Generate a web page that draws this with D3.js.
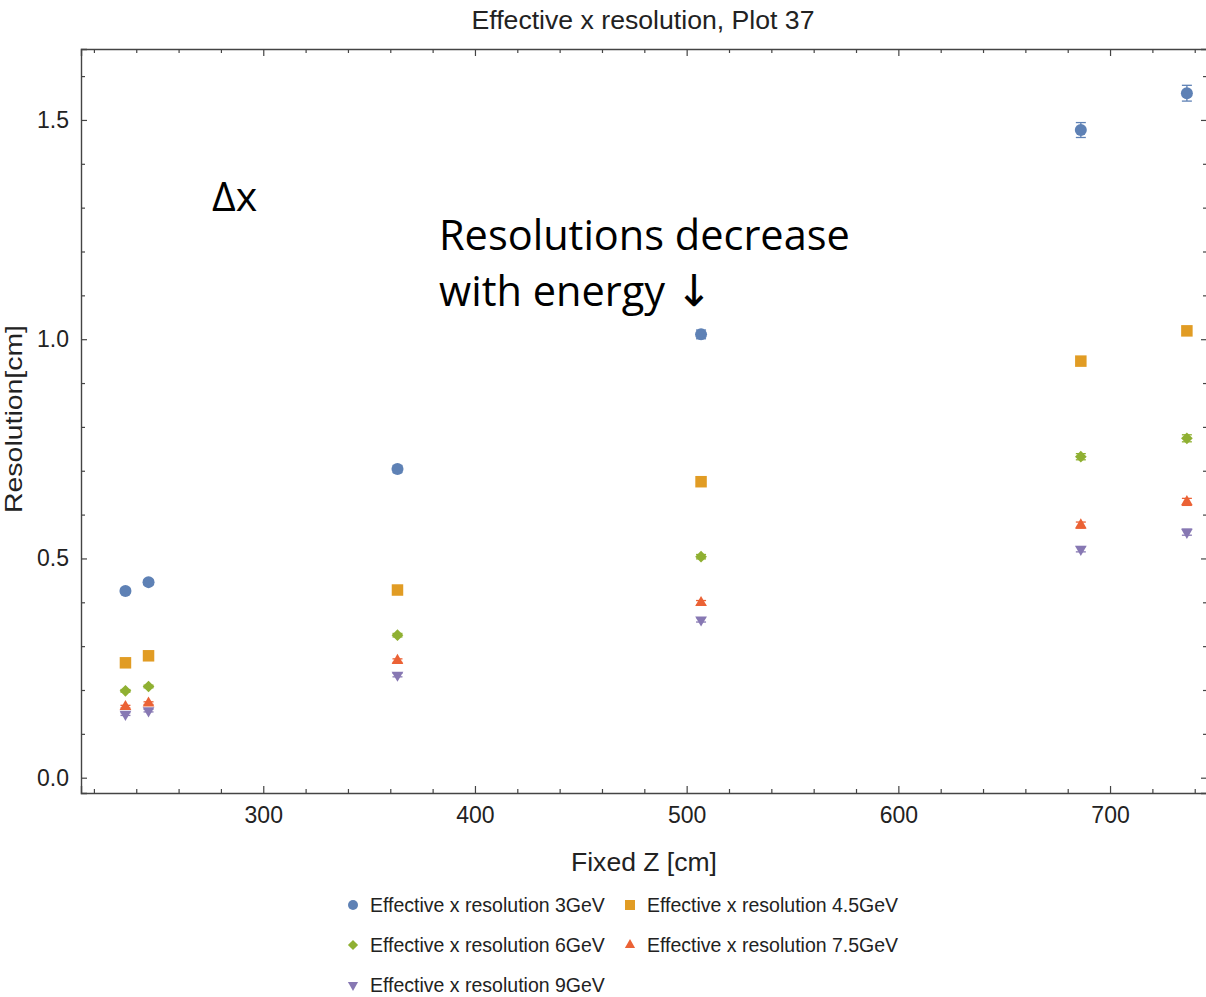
<!DOCTYPE html>
<html>
<head>
<meta charset="utf-8">
<script src="https://cdn.jsdelivr.net/npm/d3@7"></script>
<style>
  body { margin: 0; background: #fff; }
  svg { display: block; }
</style>
</head>
<body>
<div id="chart"></div>
<script>
// Fixed Z positions [cm]
const zValues = [234.9, 245.8, 363.4, 506.8, 686.2, 736.3];

// Effective x resolution [cm] per beam energy
const res3GeV   = [0.426, 0.446, 0.704, 1.011, 1.477, 1.561];
const res45GeV  = [0.262, 0.278, 0.428, 0.675, 0.950, 1.019];
const res6GeV   = [0.198, 0.208, 0.325, 0.504, 0.732, 0.774];
const res75GeV  = [0.162, 0.170, 0.267, 0.399, 0.576, 0.629];
const res9GeV   = [0.145, 0.153, 0.234, 0.360, 0.521, 0.560];

// error bars (half widths)
const err3GeV   = [0.006, 0.006, 0.008, 0.010, 0.017, 0.018];
const err45GeV  = [0.004, 0.004, 0.005, 0.006, 0.009, 0.010];
const err6GeV   = [0.003, 0.003, 0.004, 0.005, 0.007, 0.008];
const err75GeV  = [0.003, 0.003, 0.004, 0.005, 0.007, 0.008];
const err9GeV   = [0.003, 0.003, 0.004, 0.005, 0.006, 0.007];

const seriesNames = ["Effective x resolution 3GeV", "Effective x resolution 4.5GeV",
    "Effective x resolution 6GeV", "Effective x resolution 7.5GeV", "Effective x resolution 9GeV"];

const xMajorTicks = [300, 400, 500, 600, 700];
const yMajorTicks = [0.0, 0.5, 1.0, 1.5];

const series = [
    {name: seriesNames[0], vals: res3GeV,  errs: err3GeV,  color: "#5E81B5", shape: "circle"},
    {name: seriesNames[1], vals: res45GeV, errs: err45GeV, color: "#E19C24", shape: "square"},
    {name: seriesNames[2], vals: res6GeV,  errs: err6GeV,  color: "#8FB032", shape: "diamond"},
    {name: seriesNames[3], vals: res75GeV, errs: err75GeV, color: "#EB6235", shape: "up"},
    {name: seriesNames[4], vals: res9GeV,  errs: err9GeV,  color: "#8778B3", shape: "down"}
];

const width = 1206, height = 997;
const frame = {left: 81, right: 1207, top: 49, bottom: 793};

const svg = d3.select("#chart").append("svg")
    .attr("width", width)
    .attr("height", height)
    .style("font-family", "'Liberation Sans', Arial, sans-serif");

const x = d3.scaleLinear().domain([213.9, 745.8]).range([frame.left, frame.right]);
const y = d3.scaleLinear().domain([-0.0349, 1.6618]).range([frame.bottom, frame.top]);

const axisColor = "#444";
const labelColor = "#222";

// minor ticks
const xMinor = d3.range(220, 746, 20).filter(v => v % 100 !== 0);
const yMinor = d3.range(1, 17).map(v => v / 10).filter(v => Math.round(v * 10) % 5 !== 0);

function styleAxis(g) {
    g.select(".domain").attr("stroke", axisColor).attr("stroke-width", 1.4);
    g.selectAll(".tick line").attr("stroke", axisColor).attr("stroke-width", 1.2);
    g.selectAll(".tick text").attr("fill", labelColor).style("font-size", "23px");
}

// bottom
svg.append("g").attr("transform", `translate(0,${frame.bottom})`)
    .call(d3.axisBottom(x).tickValues(xMajorTicks).tickSize(-7).tickPadding(14).tickFormat(d3.format("d")))
    .call(styleAxis);
svg.append("g").attr("transform", `translate(0,${frame.bottom})`)
    .call(d3.axisBottom(x).tickValues(xMinor).tickSize(-4).tickFormat(""))
    .call(styleAxis).call(g => g.select(".domain").remove());
// top
svg.append("g").attr("transform", `translate(0,${frame.top})`)
    .call(d3.axisTop(x).tickValues(xMajorTicks).tickSize(-7).tickFormat(""))
    .call(styleAxis);
svg.append("g").attr("transform", `translate(0,${frame.top})`)
    .call(d3.axisTop(x).tickValues(xMinor).tickSize(-4).tickFormat(""))
    .call(styleAxis).call(g => g.select(".domain").remove());
// left
svg.append("g").attr("transform", `translate(${frame.left},0)`)
    .call(d3.axisLeft(y).tickValues(yMajorTicks).tickSize(-6).tickPadding(12).tickFormat(d3.format(".1f")))
    .call(styleAxis);
svg.append("g").attr("transform", `translate(${frame.left},0)`)
    .call(d3.axisLeft(y).tickValues(yMinor).tickSize(-4).tickFormat(""))
    .call(styleAxis).call(g => g.select(".domain").remove());
// right
svg.append("g").attr("transform", `translate(${frame.right},0)`)
    .call(d3.axisRight(y).tickValues(yMajorTicks).tickSize(-6).tickFormat(""))
    .call(styleAxis);
svg.append("g").attr("transform", `translate(${frame.right},0)`)
    .call(d3.axisRight(y).tickValues(yMinor).tickSize(-4).tickFormat(""))
    .call(styleAxis).call(g => g.select(".domain").remove());

// symbol helpers
function symbolPath(shape, s) {
    if (shape === "circle") return d3.symbol(d3.symbolCircle, Math.PI * (s / 2) ** 2)();
    if (shape === "square") return d3.symbol(d3.symbolSquare, s * s)();
    if (shape === "diamond") return d3.symbol(d3.symbolSquare, (s * 0.72) ** 2)();
    return d3.symbol(d3.symbolTriangle, s * s * 0.45)();
}
function symbolRotate(shape) {
    if (shape === "diamond") return 45;
    if (shape === "down") return 180;
    return 0;
}

// data
const plot = svg.append("g");
series.forEach(s => {
    const pts = zValues.map((z, i) => ({z: z, v: s.vals[i], e: s.errs[i]}));
    const g = plot.append("g");
    // error bars
    g.selectAll("g.err").data(pts).join("g").attr("class", "err")
        .each(function(d) {
            const e = d3.select(this);
            const cx = x(d.z), y1 = y(d.v + d.e), y2 = y(d.v - d.e);
            e.append("line").attr("x1", cx).attr("x2", cx).attr("y1", y1).attr("y2", y2)
                .attr("stroke", s.color).attr("stroke-width", 1.3);
            [y1, y2].forEach(yy => e.append("line")
                .attr("x1", cx - 5).attr("x2", cx + 5).attr("y1", yy).attr("y2", yy)
                .attr("stroke", s.color).attr("stroke-width", 1.3));
        });
    g.selectAll("path").data(pts).join("path")
        .attr("d", symbolPath(s.shape, s.shape === "circle" ? 12 : 11.5))
        .attr("transform", d => `translate(${x(d.z)},${y(d.v)}) rotate(${symbolRotate(s.shape)})`)
        .attr("fill", s.color);
});

// title
svg.append("text")
    .attr("x", 643).attr("y", 29)
    .attr("text-anchor", "middle")
    .attr("fill", labelColor)
    .attr("textLength", 343)
    .attr("lengthAdjust", "spacingAndGlyphs")
    .style("font-size", "25px")
    .text("Effective x resolution, Plot 37");

// axis labels
svg.append("text")
    .attr("x", 644).attr("y", 871)
    .attr("text-anchor", "middle")
    .attr("fill", labelColor)
    .attr("textLength", 146)
    .attr("lengthAdjust", "spacingAndGlyphs")
    .style("font-size", "26px")
    .text("Fixed Z [cm]");
svg.append("text")
    .attr("transform", `translate(22,419) rotate(-90)`)
    .attr("text-anchor", "middle")
    .attr("fill", labelColor)
    .attr("textLength", 188)
    .attr("lengthAdjust", "spacingAndGlyphs")
    .style("font-size", "24px")
    .text("Resolution[cm]");

// annotations
const annFont = "'Open Sans', 'Noto Sans', sans-serif";
svg.append("text")
    .attr("x", 212).attr("y", 211)
    .style("font-family", annFont)
    .style("font-size", "41px")
    .attr("fill", "#000")
    .text("Δx");
svg.append("text")
    .attr("x", 439).attr("y", 250)
    .style("font-family", annFont)
    .style("font-size", "41.5px")
    .attr("fill", "#000")
    .text("Resolutions decrease");
const line2 = svg.append("text")
    .attr("x", 439).attr("y", 306)
    .style("font-family", annFont)
    .style("font-size", "41.5px")
    .attr("fill", "#000");
line2.append("tspan").text("with energy ");
line2.append("tspan")
    .style("font-family", "'DejaVu Sans', sans-serif")
    .style("font-size", "44px")
    .text("↓");

// legend
const legendPos = [[353, 905], [630, 905], [353, 945], [630, 945], [353, 985]];
const legend = svg.append("g");
series.forEach((s, i) => {
    const [lx, ly] = legendPos[i];
    legend.append("path")
        .attr("d", symbolPath(s.shape, 10))
        .attr("transform", `translate(${lx},${ly}) rotate(${symbolRotate(s.shape)})`)
        .attr("fill", s.color);
    legend.append("text")
        .attr("x", lx + 17).attr("y", ly + 7)
        .attr("fill", labelColor)
        .style("font-size", "19.5px")
        .text(s.name);
});
</script>
</body>
</html>
